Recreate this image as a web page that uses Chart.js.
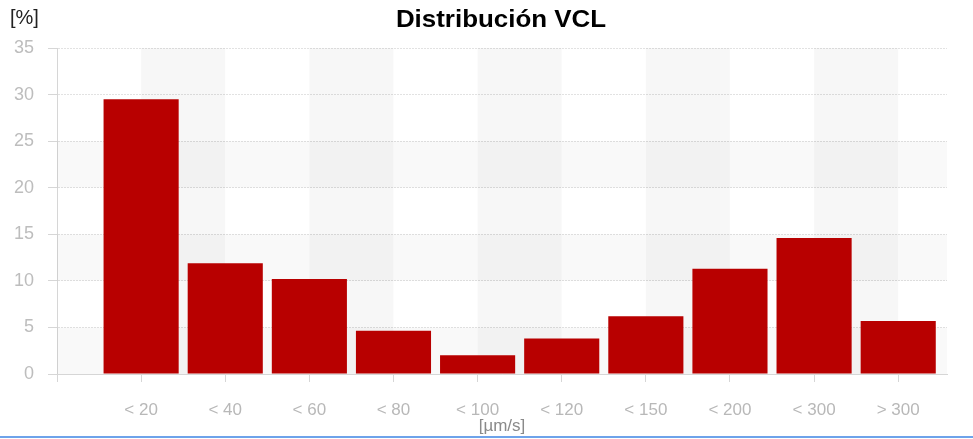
<!DOCTYPE html>
<html>
<head>
<meta charset="utf-8">
<script src="https://cdn.jsdelivr.net/npm/chart.js@4/dist/chart.umd.min.js"></script>
<style>
  html, body { margin: 0; padding: 0; background: #fff; }
  #wrap { position: relative; width: 973px; height: 439px; overflow: hidden; }
  #bottomLine { position: absolute; left: 0; top: 436px; width: 973px; height: 2px; background: #6ea3ea; }
</style>
</head>
<body>
<div id="wrap">
  <canvas id="c" width="973" height="439"></canvas>
  <div id="bottomLine"></div>
</div>
<script>
const categories = ['< 20', '< 40', '< 60', '< 80', '< 100', '< 120', '< 150', '< 200', '< 300', '> 300'];
const percentValues = [29.5, 11.9, 10.2, 4.65, 2.0, 3.8, 6.2, 11.3, 14.6, 5.7];
const yTicks = [0, 5, 10, 15, 20, 25, 30, 35];
const chartTitle = 'Distribución VCL';
const yUnit = '[%]';
const xUnit = '[µm/s]';

const points = percentValues.map((v, i) => ({ x: i + 1, y: v }));

const bandsPlugin = {
  id: 'bands',
  beforeDatasetsDraw(chart) {
    const { ctx, chartArea, scales } = chart;
    const xs = scales.x, ys = scales.y;
    ctx.save();
    ctx.fillStyle = 'rgba(0,0,0,0.03)';
    for (let i = 1; i < categories.length; i += 2) {
      const l = xs.getPixelForValue(i), r = xs.getPixelForValue(i + 1);
      ctx.fillRect(l, chartArea.top, r - l, chartArea.bottom - chartArea.top);
    }
    ctx.fillStyle = 'rgba(0,0,0,0.022)';
    for (let k = 0; k + 1 < yTicks.length; k += 2) {
      if (yTicks[k] >= 30) continue;
      const b = ys.getPixelForValue(yTicks[k]), t = ys.getPixelForValue(yTicks[k + 1]);
      ctx.fillRect(chartArea.left, t, chartArea.right - chartArea.left, b - t);
    }
    ctx.restore();
  },
  afterDraw(chart) {
    const { ctx } = chart;
    ctx.save();
    ctx.textBaseline = 'middle';
    ctx.font = '20px "Liberation Sans", Arial, sans-serif';
    ctx.fillStyle = '#222';
    ctx.textAlign = 'left';
    ctx.fillText(yUnit, 10, 18);
    ctx.font = 'bold 24px "Liberation Sans", Arial, sans-serif';
    ctx.fillStyle = '#000';
    ctx.textAlign = 'center';
    ctx.translate(501, 20);
    ctx.scale(1.08, 1);
    ctx.fillText(chartTitle, 0, 0);
    ctx.restore();
  }
};

new Chart(document.getElementById('c'), {
  type: 'bar',
  data: {
    datasets: [{
      data: points,
      backgroundColor: '#b80000',
      borderWidth: 0,
      barPercentage: 0.893,
      categoryPercentage: 1.0
    }]
  },
  plugins: [bandsPlugin],
  options: {
    responsive: false,
    animation: false,
    devicePixelRatio: 1,
    layout: { padding: { left: 0, right: 26, top: 48, bottom: 0 } },
    plugins: {
      legend: { display: false },
      tooltip: { enabled: false },
      title: { display: false }
    },
    scales: {
      x: {
        type: 'linear',
        min: 0,
        max: 10.58,
        offset: false,
        grid: { offset: false, drawOnChartArea: false, drawTicks: true, tickLength: 8, color: '#d6d6d6' },
        border: { display: true, color: '#d6d6d6' },
        ticks: {
          stepSize: 1,
          includeBounds: false,
          autoSkip: false,
          maxRotation: 0,
          padding: 18,
          color: '#b8b8b8',
          font: { family: '"Liberation Sans", Arial, sans-serif', size: 17 },
          callback: (v) => (v >= 1 && v <= categories.length && Number.isInteger(v)) ? categories[v - 1] : ''
        },
        title: {
          display: true,
          text: xUnit,
          color: '#8a8a8a',
          font: { family: '"Liberation Sans", Arial, sans-serif', size: 17 },
          padding: { top: 0, bottom: 2 }
        },
        afterFit: (s) => { s.height = 65; }
      },
      y: {
        min: 0,
        max: 35,
        grid: { color: '#e2e2e2', tickLength: 9, tickColor: '#d6d6d6' },
        border: { display: true, color: '#d6d6d6', dash: [2, 1] },
        ticks: {
          stepSize: 5,
          padding: 14,
          color: '#bdbdbd',
          font: { family: '"Liberation Sans", Arial, sans-serif', size: 18 }
        },
        afterBuildTicks: (s) => { s.ticks = yTicks.map(v => ({ value: v })); },
        afterFit: (s) => { s.width = 57; }
      }
    }
  }
});
</script>
</body>
</html>
